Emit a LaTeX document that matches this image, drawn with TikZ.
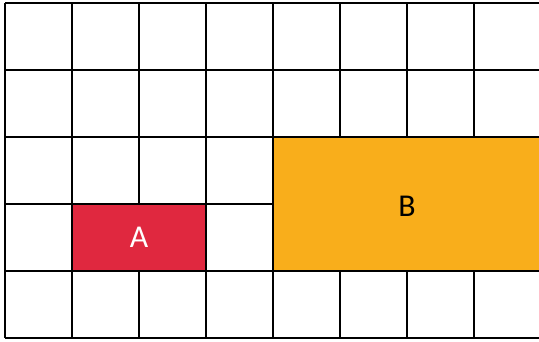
\documentclass[tikz,border=0pt]{standalone}
\usepackage{fontspec}
\setsansfont{Carlito}
\usepackage{xcolor}
\usepackage{tikz}
\usetikzlibrary{positioning}
\definecolor{blkred}{HTML}{E0283F}
\definecolor{blkorange}{HTML}{F9AE1B}
\tikzset{
  cellgrid/.style={line width=0.9pt, black},
  blk/.style={rectangle, draw=black, line width=0.9pt, inner sep=0pt,
              font=\sffamily\fontsize{13.5}{15}\selectfont},
  blka/.style={blk, fill=blkred, text=white, minimum width=2cm, minimum height=1cm},
  blkb/.style={blk, fill=blkorange, text=black, minimum width=4cm, minimum height=2cm,
               text height=0.38cm, text depth=0pt}
}
\begin{document}
\begin{tikzpicture}
  \useasboundingbox (-0.075,-0.045) rectangle (7.97,5.045);
  \draw[cellgrid] (0,0) grid (8.2,5);
  \draw[cellgrid] (0,0) -- (0,5);
  \node[blka] (A) at (2,1.5) {A};
  \node[blkb] (B) at (6,2) {B};
\end{tikzpicture}
\end{document}
